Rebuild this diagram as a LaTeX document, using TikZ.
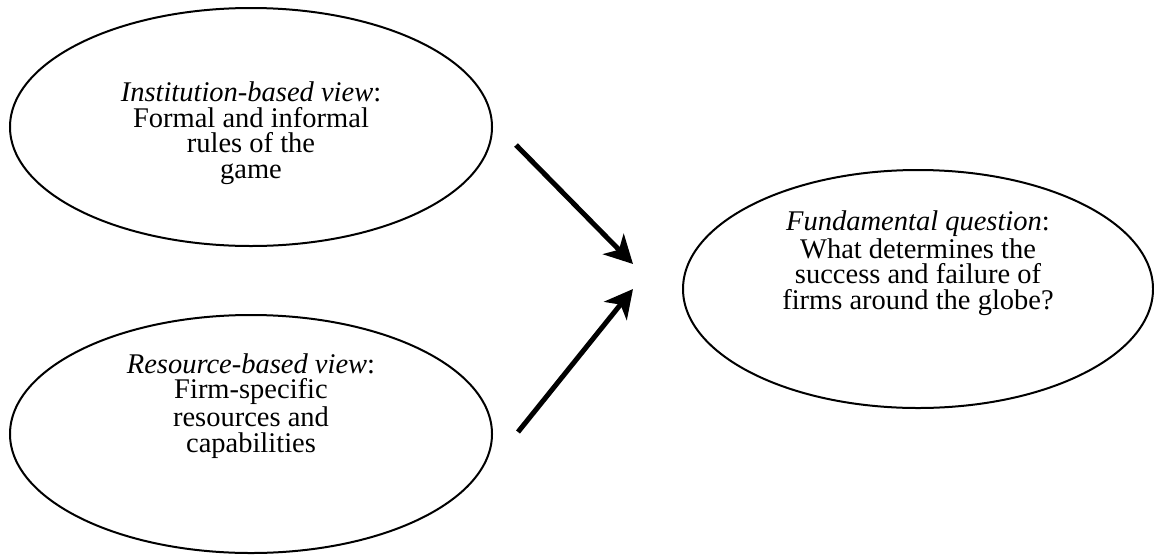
\documentclass[tikz,border=0pt]{standalone}
\usepackage{fontspec}
\setmainfont{Liberation Serif}
\usetikzlibrary{shapes.geometric,arrows.meta}
\tikzset{oval/.style={draw,ellipse,line width=1pt,inner sep=0pt,minimum height=119pt},
	words/.style={align=center,font=\fontsize{14.25pt}{12.75pt}\selectfont},
	push/.style={line width=2.5pt,-{Stealth[length=14pt,width=14.5pt,inset=4pt]}}}

\begin{document}
\begin{tikzpicture}[x=0.5pt,y=-0.5pt]
\useasboundingbox (0,0) rectangle (1154,557);
%
\node[oval,minimum width=241pt] (inst) at (251,127) {};
\node[oval,minimum width=241pt] (res) at (251,434) {};
\node[oval,minimum width=235pt] (quest) at (918,289) {};
	\node[words] (instT) at (251,133) {\textit{Institution-based view}:\\Formal and informal\\rules of the\\game};
	\node[words] (resT) at (251,406) {\textit{Resource-based view}:\\Firm-specific\\resources and\\capabilities};
	\node[words] (questT) at (918,263) {\textit{Fundamental question}:\\What determines the\\success and failure of\\firms around the globe?};
%
\coordinate (s1) at ([xshift=11.5pt,yshift=-9pt]inst.east);
\coordinate (t1) at ([xshift=-24.5pt,yshift=12.5pt]quest.west);
\coordinate (s2) at ([xshift=12.5pt,yshift=1pt]res.east);
\coordinate (t2) at ([xshift=-24.5pt]quest.west);
	\draw[push] (s1) -- (t1);
	\draw[push] (s2) -- (t2);
\end{tikzpicture}
\end{document}
